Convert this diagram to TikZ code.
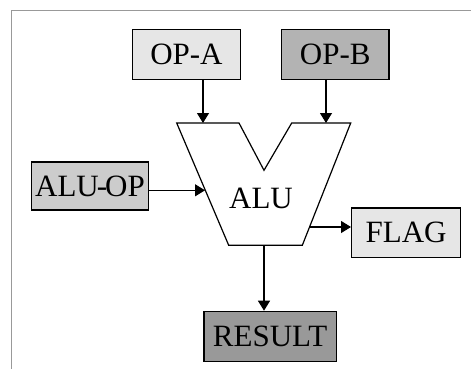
\documentclass[tikz,border=0pt]{standalone}
\usepackage{fontspec}
\setmainfont{Liberation Serif}
\usetikzlibrary{arrows.meta}
\definecolor{lightfill}{HTML}{E6E6E6}
\definecolor{midfill}{HTML}{CCCCCC}
\definecolor{opbfill}{HTML}{B3B3B3}
\definecolor{darkfill}{HTML}{999999}
\definecolor{framegray}{HTML}{999999}
\begin{document}
\begin{tikzpicture}[x=1pt,y=-1pt,
  box/.style={draw=black,line width=1.2pt,inner sep=0pt,anchor=north west,
    font=\fontsize{31}{32}\selectfont},
  conn/.style={line width=1.2pt,-{Triangle[width=12pt,length=10pt]}}]
\useasboundingbox (0,0) rectangle (471,369);
\fill[white] (0,0) rectangle (471,369);
\draw[framegray,line width=1pt] (11,369) -- (11,11) -- (471,11);
% boxes
\node[box,fill=lightfill,minimum width=108.3pt,minimum height=49.7pt] (opa) at (131.7,29) {OP-A};
\node[box,fill=opbfill,minimum width=107.3pt,minimum height=49.7pt] (opb) at (281,29) {OP-B};
\node[box,fill=midfill,minimum width=116.7pt,minimum height=48pt] (aluop) at (31,161.3) {ALU\kern-2pt-\kern-2pt OP};
\node[box,fill=lightfill,minimum width=109pt,minimum height=49.7pt] (flag) at (351,207.3) {FLAG};
\node[box,fill=darkfill,minimum width=132.4pt,minimum height=50pt] (result) at (203.3,310.7) {RESULT};
% ALU shape
\coordinate (tl) at (176.7,123);
\coordinate (nl) at (239,123);
\coordinate (nb) at (264,170.3);
\coordinate (nr) at (291.7,123);
\coordinate (tr) at (350.7,123);
\coordinate (br) at (302.3,245.3);
\coordinate (bl) at (228.7,245.3);
\draw[line width=1.2pt,fill=white] (tl) -- (nl) -- (nb) -- (nr) -- (tr) -- (br) -- (bl) -- cycle;
\node[font=\fontsize{31}{32}\selectfont] (alu) at (261,198) {ALU};
% connector end points on the ALU outline
\coordinate (ina) at (203,123);
\coordinate (inb) at (326,123);
\coordinate (inop) at (205,190.3);
\coordinate (outflag) at (309,227);
\coordinate (outres) at (264,245.3);
\draw[conn] (opa.south -| ina) -- (ina);
\draw[conn] (opb.south -| inb) -- (inb);
\draw[conn] (aluop.east |- inop) -- (inop);
\draw[conn] (outflag) -- (flag.west |- outflag);
\draw[conn] (outres) -- (result.north -| outres);
\end{tikzpicture}
\end{document}
